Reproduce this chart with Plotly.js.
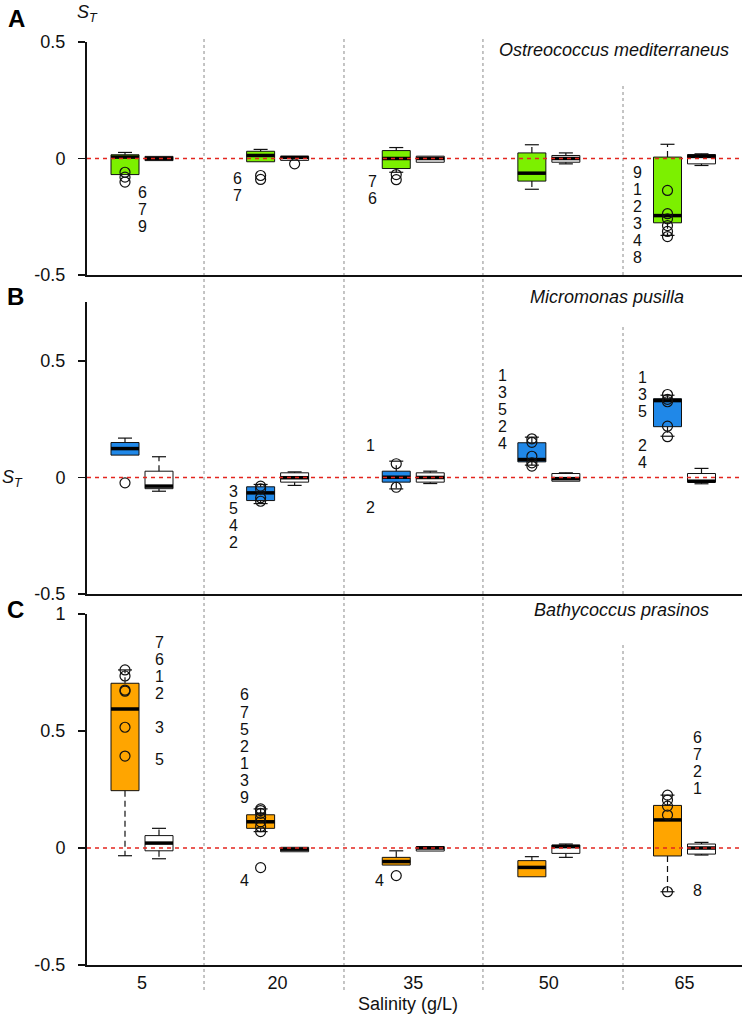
<!DOCTYPE html>
<html><head><meta charset="utf-8">
<script src="https://cdn.plot.ly/plotly-3.0.1.min.js"></script>
<style>html,body{margin:0;padding:0;background:#fff}#chart{width:742px;height:1019px}</style>
</head><body><div id="chart"></div>
<script>
// ---------- DATA ----------
const salinity = [5, 20, 35, 50, 65];
const xTickLabels = ['5', '20', '35', '50', '65'];

// Panel A: Ostreococcus mediterraneus (green) and control (white)
const oQ1  = [-0.069, -0.014, -0.043, -0.097, -0.276];
const oMed = [ 0.006,  0.013,  0.000, -0.063, -0.245];
const oQ3  = [ 0.016,  0.031,  0.034,  0.024,  0.006];
const oLo  = [-0.069, -0.014, -0.059, -0.132, -0.330];
const oHi  = [ 0.026,  0.039,  0.047,  0.059,  0.061];
const oCQ1  = [-0.009, -0.008, -0.016, -0.016, -0.023];
const oCMed = [ 0.000,  0.005,  0.000,  0.000,  0.009];
const oCQ3  = [ 0.009,  0.009,  0.010,  0.013,  0.017];
const oCLo  = [-0.009, -0.008, -0.016, -0.023, -0.030];
const oCHi  = [ 0.009,  0.009,  0.010,  0.024,  0.020];
const oPtsSal = [5, 5, 5, 20, 20, 35, 35, 65, 65, 65, 65, 65, 65];
const oPtsVal = [-0.059, -0.080, -0.101, -0.073, -0.090, -0.069, -0.091, -0.137, -0.237, -0.259, -0.288, -0.313, -0.335];
const oCPtsSal = [20];
const oCPtsVal = [-0.023];

// Panel B: Micromonas pusilla (blue) and control (white)
const mQ1  = [0.096, -0.099, -0.020, 0.067, 0.218];
const mMed = [0.124, -0.066,  0.001, 0.077, 0.330];
const mQ3  = [0.150, -0.040,  0.027, 0.149, 0.338];
const mLo  = [0.096, -0.112, -0.049, 0.053, 0.177];
const mHi  = [0.169, -0.030,  0.070, 0.173, 0.353];
const mCQ1  = [-0.048, -0.020, -0.020, -0.016, -0.020];
const mCMed = [-0.037, -0.001,  0.000, -0.005, -0.016];
const mCQ3  = [ 0.027,  0.020,  0.020,  0.017,  0.017];
const mCLo  = [-0.059, -0.034, -0.026, -0.016, -0.027];
const mCHi  = [ 0.089,  0.024,  0.027,  0.020,  0.039];
const mPtsSal = [5, 20, 20, 20, 20, 35, 35, 50, 50, 50, 50, 50, 65, 65, 65, 65, 65];
const mPtsVal = [-0.023, -0.037, -0.049, -0.087, -0.102, 0.059, -0.042, 0.166, 0.151, 0.091, 0.063, 0.049, 0.356, 0.335, 0.325, 0.220, 0.175];

// Panel C: Bathycoccus prasinos (orange) and control (white)
const bQ1  = [0.245, 0.084, -0.073, -0.123, -0.034];
const bMed = [0.594, 0.112, -0.058, -0.083,  0.120];
const bQ3  = [0.704, 0.142, -0.040, -0.054,  0.182];
const bLo  = [-0.033, 0.070, -0.073, -0.123, -0.187];
const bHi  = [0.761, 0.167, -0.012, -0.037,  0.226];
const bCQ1  = [-0.012, -0.016, -0.013, -0.023, -0.026];
const bCMed = [ 0.021, -0.005,  0.000,  0.006,  0.000];
const bCQ3  = [ 0.053,  0.003,  0.006,  0.013,  0.017];
const bCLo  = [-0.046, -0.016, -0.013, -0.040, -0.030];
const bCHi  = [ 0.084,  0.003,  0.006,  0.017,  0.024];
const bPtsSal = [5, 5, 5, 5, 5, 5, 20, 20, 20, 20, 20, 20, 20, 20, 35, 65, 65, 65, 65, 65];
const bPtsVal = [0.761, 0.735, 0.675, 0.670, 0.516, 0.393, 0.167, 0.160, 0.148, 0.130, 0.112, 0.091, 0.070, -0.084, -0.118, 0.226, 0.205, 0.179, 0.141, -0.187];

// strain number labels
const labelsA = [['6','7','9'], ['6','7'], ['7','6'], ['9','1','2','3','4','8']];
const labelsB = [['3','5','4','2'], ['1'], ['2'], ['1','3','5','2','4'], ['1','3','5'], ['2','4']];
const labelsC = [['7','6','1','2'], ['3'], ['5'], ['6','7','5','2','1','3','9'], ['4'], ['4'], ['6','7','2','1'], ['8']];

const yTickValsA = [-0.5, 0, 0.5];
const yTickValsB = [-0.5, 0, 0.5];
const yTickValsC = [-0.5, 0, 0.5, 1];
const yTickTextA = ['-0.5', '0', '0.5'];
const yTickTextB = ['-0.5', '0', '0.5'];
const yTickTextC = ['-0.5', '0', '0.5', '1'];

// ---------- LAYOUT CONFIG ----------
const PXU = 9.042;          // pixels per salinity unit
const OFF = 17 / PXU;       // box offset from group centre
const BW = 28 / PXU;        // box width
const CAP = 7 / PXU;        // half whisker cap
const FONT = '"Liberation Sans", Arial, sans-serif';
const INK = '#111';

// label anchors [x (salinity units), top y]
const labelPosA = [[5.11, -0.146], [15.51, -0.086], [30.44, -0.099], [59.85, -0.060]];
const labelPosB = [[15.17, -0.059], [30.29, 0.137], [30.29, -0.127], [44.92, 0.438], [60.3, 0.429], [60.3, 0.137]];
const labelPosC = [[6.88, 0.879], [6.88, 0.514], [6.88, 0.379], [16.39, 0.654], [16.39, -0.140], [31.32, -0.137], [66.49, 0.473], [66.49, -0.182]];
const LSTEP = 0.0728;

function boxTrace(xa, ya, q1, med, q3, fill, side) {
  return {type: 'box', xaxis: xa, yaxis: ya, x: salinity.map(s => s + side * OFF),
    q1: q1, median: med, q3: q3, lowerfence: q1, upperfence: q3,
    width: BW, fillcolor: fill, line: {color: INK, width: 1}, whiskerwidth: 0,
    boxpoints: false, hoverinfo: 'skip', showlegend: false};
}
function whiskerTraces(xa, ya, q1, q3, lo, hi, side) {
  const xs = [], ys = [], cx = [], cy = [];
  salinity.forEach((s, i) => {
    const x = s + side * OFF;
    if (hi[i] > q3[i]) { xs.push(x, x, null); ys.push(q3[i], hi[i], null); cx.push(x - CAP, x + CAP, null); cy.push(hi[i], hi[i], null); }
    if (lo[i] < q1[i]) { xs.push(x, x, null); ys.push(q1[i], lo[i], null); cx.push(x - CAP, x + CAP, null); cy.push(lo[i], lo[i], null); }
  });
  return [
    {type: 'scatter', mode: 'lines', xaxis: xa, yaxis: ya, x: xs, y: ys, line: {color: INK, width: 1.2, dash: '6px,4px'}, hoverinfo: 'skip', showlegend: false},
    {type: 'scatter', mode: 'lines', xaxis: xa, yaxis: ya, x: cx, y: cy, line: {color: INK, width: 1.2}, hoverinfo: 'skip', showlegend: false}
  ];
}
function medianTrace(xa, ya, med, side) {
  const xs = [], ys = [];
  salinity.forEach((s, i) => { const x = s + side * OFF; xs.push(x - BW / 2, x + BW / 2, null); ys.push(med[i], med[i], null); });
  return {type: 'scatter', mode: 'lines', xaxis: xa, yaxis: ya, x: xs, y: ys, line: {color: '#000', width: 3.5}, hoverinfo: 'skip', showlegend: false};
}
function pointTrace(xa, ya, sal, val, side) {
  return {type: 'scatter', mode: 'markers', xaxis: xa, yaxis: ya, x: sal.map(s => s + side * OFF), y: val,
    marker: {symbol: 'circle-open', size: 10, color: INK, line: {width: 1.2, color: INK}}, hoverinfo: 'skip', showlegend: false};
}
function panel(xa, ya, Q1, Med, Q3, Lo, Hi, fill, CQ1, CMed, CQ3, CLo, CHi, ptsSal, ptsVal, cPtsSal, cPtsVal) {
  const t = [];
  t.push(boxTrace(xa, ya, Q1, Med, Q3, fill, -1));
  t.push(boxTrace(xa, ya, CQ1, CMed, CQ3, '#ffffff', 1));
  t.push(...whiskerTraces(xa, ya, Q1, Q3, Lo, Hi, -1));
  t.push(...whiskerTraces(xa, ya, CQ1, CQ3, CLo, CHi, 1));
  t.push(medianTrace(xa, ya, Med, -1));
  t.push(medianTrace(xa, ya, CMed, 1));
  t.push(pointTrace(xa, ya, ptsSal, ptsVal, -1));
  if (cPtsSal) t.push(pointTrace(xa, ya, cPtsSal, cPtsVal, 1));
  return t;
}

const traces = [
  ...panel('x', 'y', oQ1, oMed, oQ3, oLo, oHi, '#7cf000', oCQ1, oCMed, oCQ3, oCLo, oCHi, oPtsSal, oPtsVal, oCPtsSal, oCPtsVal),
  ...panel('x2', 'y2', mQ1, mMed, mQ3, mLo, mHi, '#2088e8', mCQ1, mCMed, mCQ3, mCLo, mCHi, mPtsSal, mPtsVal),
  ...panel('x3', 'y3', bQ1, bMed, bQ3, bLo, bHi, '#ffa500', bCQ1, bCMed, bCQ3, bCLo, bCHi, bPtsSal, bPtsVal)
];

// annotations
const ann = [];
function addLabels(groups, pos, xr, yr) {
  groups.forEach((g, gi) => {
    g.forEach((t, k) => ann.push({xref: xr, yref: yr, x: pos[gi][0], y: pos[gi][1] - k * LSTEP, text: t, showarrow: false,
      xanchor: 'center', yanchor: 'middle', font: {family: FONT, size: 16, color: INK}}));
  });
}
addLabels(labelsA, labelPosA, 'x', 'y');
addLabels(labelsB, labelPosB, 'x2', 'y2');
addLabels(labelsC, labelPosC, 'x3', 'y3');
const H = 1019, L = 87, PW = 655;
function pap(px, py) { return {x: (px - L) / PW, y: 1 - py / H}; }
function addPaper(px, py, text, font, xanchor) {
  const p = pap(px, py);
  ann.push({xref: 'paper', yref: 'paper', x: p.x, y: p.y, text: text, showarrow: false, xanchor: xanchor || 'center', yanchor: 'middle', font: font});
}
const panelFont = {family: FONT, size: 24, color: '#000'};
addPaper(16, 18, '<b>A</b>', panelFont);
addPaper(15, 297, '<b>B</b>', panelFont);
addPaper(15, 609, '<b>C</b>', panelFont);
const stFont = {family: FONT, size: 18, color: INK};
addPaper(87, 14, '<i>S</i><sub><i>T</i></sub>', stFont);
addPaper(12, 478, '<i>S</i><sub><i>T</i></sub>', stFont);
const spFont = {family: FONT, size: 18, color: INK};
addPaper(614, 50, '<i>Ostreococcus mediterraneus</i>', spFont);
addPaper(607, 297, '<i>Micromonas pusilla</i>', spFont);
addPaper(621, 610, '<i>Bathycoccus prasinos</i>', spFont);
addPaper(408, 1004, 'Salinity (g/L)', {family: FONT, size: 18, color: INK});

// shapes: dividers and zero lines
const shapes = [];
const divX = [11.86, 27.34, 42.71];
divX.forEach(x => shapes.push({type: 'line', xref: 'x', yref: 'paper', x0: x, x1: x, y0: 1 - 990 / H, y1: 1 - 38 / H,
  line: {color: '#8a8a8a', width: 1, dash: 'dot'}, layer: 'below'}));
[[83, 275], [325, 594], [645, 990]].forEach(seg => shapes.push({type: 'line', xref: 'x', yref: 'paper', x0: 58.2, x1: 58.2,
  y0: 1 - seg[1] / H, y1: 1 - seg[0] / H, line: {color: '#8a8a8a', width: 1, dash: 'dot'}, layer: 'below'}));
['y', 'y2', 'y3'].forEach(ya => shapes.push({type: 'line', xref: 'paper', yref: ya, x0: 0, x1: 1, y0: 0, y1: 0,
  line: {color: '#e3261f', width: 1.5, dash: '4px,4px'}, layer: 'above'}));

const xBase = {range: [-1.083, 71.36], showline: true, linecolor: INK, linewidth: 2, showgrid: false, zeroline: false,
  ticks: '', fixedrange: true};
const yBase = {showline: true, linecolor: INK, linewidth: 2, showgrid: false, zeroline: false, ticks: 'outside',
  ticklen: 7, tickwidth: 1.5, tickcolor: INK, tickfont: {family: FONT, size: 18, color: INK}, ticklabelstandoff: 9, fixedrange: true};

const layout = {
  width: 742, height: 1019, margin: {l: L, r: 0, t: 0, b: 0}, paper_bgcolor: '#fff', plot_bgcolor: 'rgba(0,0,0,0)',
  showlegend: false, boxmode: 'overlay', font: {family: FONT, color: INK},
  xaxis: Object.assign({}, xBase, {anchor: 'y', showticklabels: false}),
  xaxis2: Object.assign({}, xBase, {anchor: 'y2', showticklabels: false}),
  xaxis3: Object.assign({}, xBase, {anchor: 'y3', tickvals: salinity, ticktext: xTickLabels,
    tickfont: {family: FONT, size: 18, color: INK}, ticklabelstandoff: 0}),
  yaxis: Object.assign({}, yBase, {anchor: 'x', domain: [1 - 275 / H, 1 - 42 / H], range: [-0.5, 0.5], tickvals: yTickValsA, ticktext: yTickTextA}),
  yaxis2: Object.assign({}, yBase, {anchor: 'x2', domain: [1 - 594 / H, 1 - 302 / H], range: [-0.5, 0.753], tickvals: yTickValsB, ticktext: yTickTextB}),
  yaxis3: Object.assign({}, yBase, {anchor: 'x3', domain: [1 - 965 / H, 1 - 614 / H], range: [-0.5, 1], tickvals: yTickValsC, ticktext: yTickTextC}),
  annotations: ann, shapes: shapes
};
Plotly.newPlot('chart', traces, layout, {displayModeBar: false, staticPlot: true});
</script>
</body></html>
